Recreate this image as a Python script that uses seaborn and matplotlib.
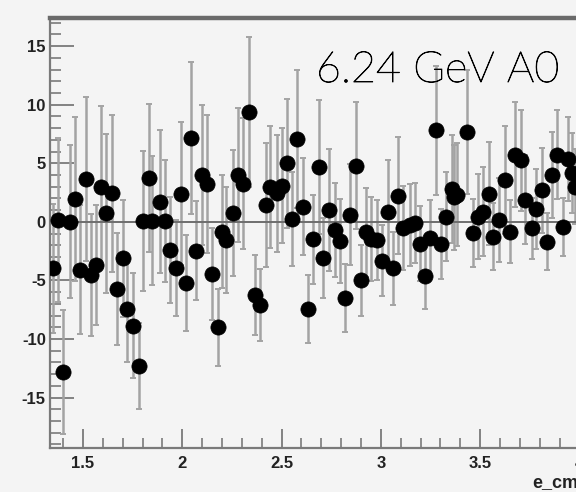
import matplotlib
matplotlib.use("Agg")
import matplotlib.pyplot as plt
import matplotlib.patheffects as pe
from matplotlib.ticker import MultipleLocator
import numpy as np
import pandas as pd
import seaborn as sns

# e_cm bins, measured asymmetry and its uncertainty
e_cm = [1.349, 1.374, 1.399, 1.433, 1.458, 1.486, 1.514, 1.539, 1.567, 1.589,
        1.617, 1.646, 1.671, 1.700, 1.722, 1.753, 1.780, 1.802, 1.832, 1.846,
        1.886, 1.913, 1.940, 1.967, 1.992, 2.020, 2.045, 2.070, 2.099, 2.126,
        2.151, 2.181, 2.200, 2.222, 2.257, 2.282, 2.307, 2.337, 2.366, 2.391,
        2.420, 2.442, 2.475, 2.500, 2.525, 2.551, 2.576, 2.606, 2.634, 2.657,
        2.688, 2.710, 2.739, 2.769, 2.794, 2.819, 2.846, 2.875, 2.900, 2.923,
        2.950, 2.979, 3.007, 3.037, 3.059, 3.088, 3.113, 3.146, 3.172, 3.197,
        3.222, 3.247, 3.277, 3.301, 3.328, 3.356, 3.368, 3.385, 3.432, 3.462,
        3.490, 3.516, 3.544, 3.566, 3.596, 3.625, 3.650, 3.675, 3.704, 3.726,
        3.759, 3.781, 3.810, 3.835, 3.863, 3.888, 3.915, 3.944, 3.960, 3.977]

a0 = [-3.96, 0.17, -12.8, 0.03, 1.94, -4.1, 3.65, -4.5, -3.7, 3.0,
      0.74, 2.45, -5.75, -3.1, -7.46, -8.86, -12.3, 0.08, 3.73, 0.1,
      1.71, 0.05, -2.4, -3.96, 2.39, -5.2, 7.15, -2.45, 4.0, 3.25,
      -4.44, -9.0, -0.83, -1.54, 0.74, 4.0, 3.25, 9.34, -6.24, -7.1,
      1.45, 3.0, 2.45, 3.08, 5.0, 0.23, 7.07, 1.31, -7.46, -1.48,
      4.67, -3.1, 1.03, -0.68, -1.62, -6.47, 0.6, 4.79, -5.0, -0.9,
      -1.48, -1.54, -3.3, 0.8, -3.96, 2.22, -0.5, -0.25, -0.1, -1.88,
      -4.6, -1.4, 7.8, -1.88, 0.45, 2.8, 2.1, 2.3, 7.7, -0.97,
      0.45, 0.88, 2.39, -1.25, 0.17, 3.6, -0.83, 5.73, 5.24, 1.88,
      -0.54, 1.08, 2.68, -1.68, 4.0, 5.73, -0.45, 5.36, 4.16, 3.0]

a0_err = [5.5, 7.0, 5.3, 6.5, 7.0, 5.5, 7.0, 5.2, 5.1, 6.9,
          6.8, 6.7, 4.8, 5.0, 4.5, 4.5, 3.7, 6.0, 6.3, 5.5,
          6.1, 5.2, 4.5, 4.1, 6.1, 4.1, 6.5, 4.2, 6.0, 5.9,
          3.9, 3.3, 4.8, 4.5, 5.4, 5.7, 5.6, 6.4, 3.4, 3.1,
          5.3, 5.2, 5.0, 4.9, 5.5, 4.0, 5.9, 4.1, 2.9, 3.8,
          5.7, 3.4, 5.2, 4.0, 3.6, 2.9, 4.3, 5.4, 3.0, 3.8,
          3.6, 3.4, 3.0, 4.5, 3.1, 5.0, 3.6, 3.5, 3.4, 3.2,
          2.8, 3.3, 5.5, 3.0, 3.8, 4.6, 4.5, 4.4, 5.3, 2.9,
          3.6, 3.8, 4.4, 2.9, 3.6, 4.6, 2.7, 4.5, 4.3, 3.8,
          2.6, 3.4, 3.6, 2.4, 3.7, 3.8, 2.5, 3.6, 3.4, 3.2]

x_ticks = [1.5, 2.0, 2.5, 3.0, 3.5, 4.0]
x_tick_labels = ["1.5", "2", "2.5", "3", "3.5", "4"]
y_ticks = [-15, -10, -5, 0, 5, 10, 15]
y_tick_labels = ["-15", "-10", "-5", "0", "5", "10", "15"]
title_text = "6.24 GeV A0"
x_title = "e_cm"

df = pd.DataFrame({"e_cm": e_cm, "A0": a0, "err": a0_err})

sns.set_style("white")
plt.rcParams["font.family"] = ["Liberation Sans", "DejaVu Sans"]

bg = "#f4f4f4"
W, H = 576, 492
fig = plt.figure(figsize=(W / 100, H / 100), dpi=100, facecolor=bg)

# frame runs on past the right edge of the canvas
x0, x1 = 1.334, 4.30
px_per_unit = 198.6
ax_left, ax_top, ax_bottom = 50, 18, 448
ax_width_px = (x1 - x0) * px_per_unit
ax = fig.add_axes([ax_left / W, 1 - ax_bottom / H, ax_width_px / W,
                   (ax_bottom - ax_top) / H])
ax.set_facecolor(bg)

ax.set_xlim(x0, x1)
ax.set_ylim(-19.3, 17.4)

# zero reference line
ax.axhline(0, color="#6e6e6e", lw=1.4, zorder=2)

# uncertainties
ax.errorbar(df["e_cm"], df["A0"], yerr=df["err"], fmt="none",
            ecolor="#a3a3a3", elinewidth=1.8, capsize=2.5, capthick=1.4,
            zorder=1)

# measured points
sns.scatterplot(data=df, x="e_cm", y="A0", ax=ax, color="black", s=120,
                edgecolor="black", linewidth=0.5, zorder=3, legend=False)

ax.set_xlabel("")
ax.set_ylabel("")

ax.set_xticks(x_ticks)
ax.set_xticklabels(x_tick_labels)
ax.set_yticks(y_ticks)
ax.set_yticklabels(y_tick_labels)
ax.xaxis.set_minor_locator(MultipleLocator(0.1))
ax.yaxis.set_minor_locator(MultipleLocator(1))

tick_col = "#7a7a7a"
ax.tick_params(axis="x", which="major", direction="in", length=14, width=1.3,
               color=tick_col, pad=6, labelsize=12, bottom=True, top=False)
ax.tick_params(axis="x", which="minor", direction="in", length=7, width=1.2,
               color=tick_col, bottom=True, top=False)
ax.tick_params(axis="y", which="major", direction="in", length=17, width=1.3,
               color=tick_col, pad=3, labelsize=12, left=True, right=False)
ax.tick_params(axis="y", which="minor", direction="in", length=8, width=1.2,
               color=tick_col, left=True, right=False)
for lab in ax.get_xticklabels() + ax.get_yticklabels():
    lab.set_fontweight("bold")
    lab.set_color("#222222")

for side in ["left", "bottom"]:
    ax.spines[side].set_color("#7a7a7a")
    ax.spines[side].set_linewidth(1.6)
ax.spines["top"].set_color("#6a6a6a")
ax.spines["top"].set_linewidth(3.2)
ax.spines["right"].set_visible(False)

title = fig.text(316 / W, 1 - 82 / H, title_text, fontsize=31,
                 fontweight="light", family=["Lato", "DejaVu Sans"],
                 color="#000000", ha="left", va="baseline")
title.set_path_effects([pe.withStroke(linewidth=0.6, foreground="#000000")])
fig.text(532 / W, 1 - 483 / H, x_title, fontsize=13, fontweight="bold",
         color="#222222", ha="left", va="center")

fig.savefig("out.png", dpi=100, facecolor=bg)
